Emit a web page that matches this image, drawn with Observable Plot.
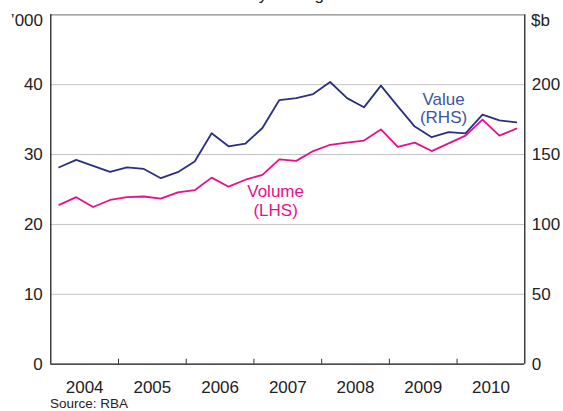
<!DOCTYPE html>
<html><head><meta charset="utf-8">
<script src="https://cdn.jsdelivr.net/npm/d3@7"></script>
<script src="https://cdn.jsdelivr.net/npm/@observablehq/plot@0.6"></script>
<style>
body{margin:0;background:#fff;font-family:"Liberation Sans",Arial,sans-serif;}
#wrap{position:relative;width:563px;height:411px;overflow:hidden;}
.t{position:absolute;white-space:nowrap;color:#222;}
</style></head>
<body><div id="wrap"></div>
<script>
// Quarterly data, 2004 Q1 – 2010 Q4
const years = [2004,2004,2004,2004,2005,2005,2005,2005,2006,2006,2006,2006,2007,2007,2007,2007,2008,2008,2008,2008,2009,2009,2009,2009,2010,2010,2010,2010];
const quarters = [1,2,3,4,1,2,3,4,1,2,3,4,1,2,3,4,1,2,3,4,1,2,3,4,1,2,3,4];
// Volume, '000 (LHS)
const volume = [22.8,23.9,22.5,23.5,23.9,24.0,23.7,24.6,24.9,26.7,25.4,26.4,27.1,29.3,29.1,30.5,31.4,31.7,32.0,33.6,31.1,31.7,30.5,31.6,32.7,35.0,32.7,33.7];
// Value, $b (RHS)
const value = [140.9,146.2,141.9,137.6,140.9,139.7,133.1,137.4,145.0,165.2,155.9,157.9,169.0,189.0,190.4,193.3,201.9,190.4,183.8,199.3,184.5,170.0,162.4,166.1,165.2,178.6,174.5,173.1];
const leftTicks = [0,10,20,30,40];
const rightTicks = [0,50,100,150,200];
const yearLabels = [2004,2005,2006,2007,2008,2009,2010];
const yearBounds = [2005,2006,2007,2008,2009,2010];
const ratio = 5; // RHS units per LHS unit

const rows = years.map((y,i)=>({t: y + (quarters[i]-0.5)/4, volume: volume[i], value: value[i]}));

const navy = "#2b2f80", pink = "#e8108a", blueText = "#3b55a6";
const fs = 17;

const chart = Plot.plot({
  width: 563, height: 411,
  marginLeft: 50.3, marginRight: 38.7, marginTop: 14.3, marginBottom: 47.3,
  style: {fontFamily: '"Liberation Sans", Arial, sans-serif', fontSize: fs+"px", color: "#222", background: "#fff"},
  x: {domain: [2004, 2011]},
  y: {domain: [0, 50]},
  marks: [
    Plot.ruleY(leftTicks.filter(d=>d>0), {stroke: "#c4c4c4", strokeWidth: 1}),
    Plot.ruleY([50], {stroke: "#8a8a8a", strokeWidth: 1.2}),
    Plot.axisY({anchor: "left", ticks: leftTicks, tickSize: 0, tickPadding: 8, label: null, fontSize: fs}),
    Plot.axisY({anchor: "right", ticks: rightTicks.map(d=>d/ratio), tickFormat: d => String(Math.round(d*ratio)), tickSize: 0, tickPadding: 7, label: null, fontSize: fs}),
    Plot.axisX({anchor: "bottom", ticks: yearBounds, tickSize: -5, tickFormat: () => "", label: null, stroke: "#333"}),
    Plot.axisX({anchor: "bottom", ticks: yearLabels.map(d=>d+0.5), tickSize: 0, tickPadding: 17, tickFormat: d => String(Math.floor(d)), label: null, fontSize: fs}),
    Plot.line(rows, {x: "t", y: "volume", stroke: pink, strokeWidth: 1.8}),
    Plot.line(rows, {x: "t", y: d => d.value/ratio, stroke: navy, strokeWidth: 1.8}),
    Plot.ruleX([2004, 2011], {stroke: "#111", strokeWidth: 1.2}),
    Plot.ruleY([0], {stroke: "#111", strokeWidth: 1.2}),
    Plot.text(["Value", "(RHS)"], {x: [2009.8, 2009.8], y: [37.9, 35.3], text: d => d, fill: blueText, fontSize: fs}),
    Plot.text(["Volume", "(LHS)"], {x: [2007.32, 2007.32], y: [24.7, 22.0], text: d => d, fill: pink, fontSize: fs})
  ]
});
const wrap = document.getElementById("wrap");
chart.style.position = "absolute"; chart.style.left = "0"; chart.style.top = "0";
wrap.appendChild(chart);
function addText(txt, css){ const d=document.createElement("div"); d.className="t"; d.textContent=txt; Object.assign(d.style, css); wrap.appendChild(d); }
addText("Daily average", {left:"0", width:"563px", textAlign:"center", top:"-15px", fontSize:fs+"px", lineHeight:"20px"});
addText("\u2019000", {right:(563-43)+"px", top:"11px", fontSize:fs+"px", lineHeight:"20px"});
addText("$b", {left:"531px", top:"11px", fontSize:fs+"px", lineHeight:"20px"});
addText("Source: RBA", {left:"50px", top:"397px", fontSize:"13.5px", lineHeight:"14px"});
</script></body></html>
